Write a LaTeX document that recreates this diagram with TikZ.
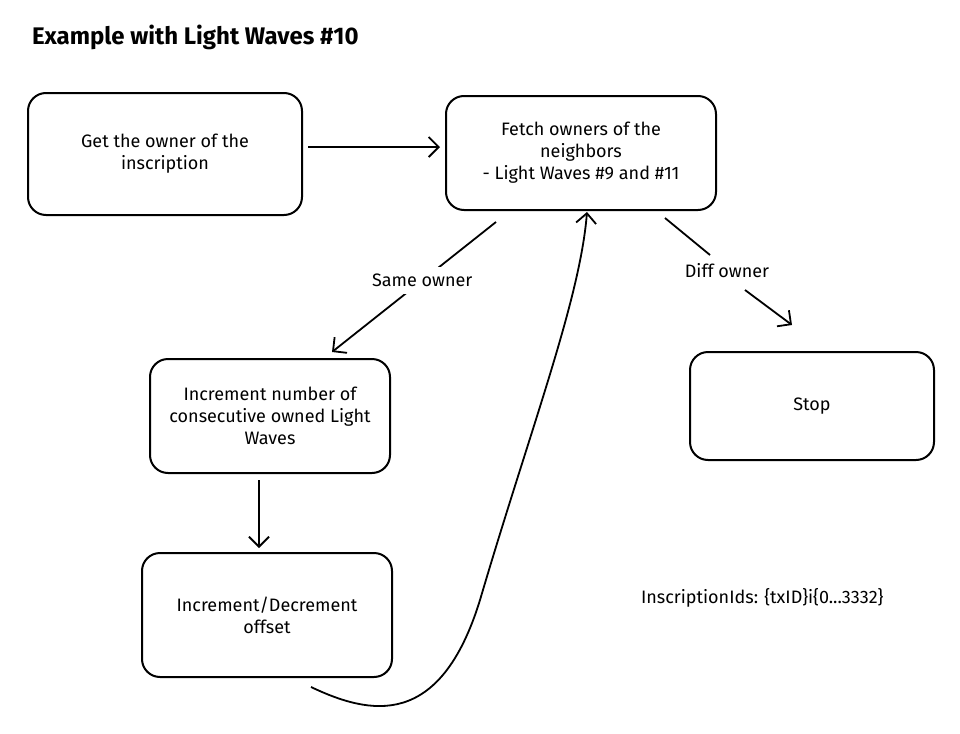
\documentclass[tikz,border=0pt]{standalone}
\usepackage{fontspec}
\setmainfont{Fira Sans}
\usetikzlibrary{arrows.meta,calc}

\begin{document}
\begin{tikzpicture}[x=0.5pt,y=-0.5pt,
    box/.style={draw,line width=1pt,rounded corners=9pt,align=center,font=\fontsize{9}{11}\selectfont},
    lbl/.style={font=\fontsize{9}{11}\selectfont},
    arr/.style={line width=0.9pt,-{Straight Barb[length=5pt]}}]
    % Frame
    \useasboundingbox (0,0) rectangle (960,734);
    \node[anchor=west,font=\fontsize{12}{14}\selectfont\bfseries] (title) at (25,37) {Example with Light Waves \#10};
    % Boxes
    \node[box,minimum width=137pt,minimum height=61pt] (owner) at (165,154) {Get the owner of the\\inscription};
    \node[box,minimum width=135pt,minimum height=57pt] (fetch) at (581,153) {Fetch owners of the\\neighbors\\- Light Waves \#9 and \#11};
    \node[box,minimum width=120pt,minimum height=57pt] (count) at (270,416) {Increment number of\\consecutive owned Light\\Waves};
    \node[box,minimum width=125pt,minimum height=62pt] (offset) at (267,615) {Increment/Decrement\\offset};
    \node[box,minimum width=122pt,minimum height=54pt] (stop) at (812,406) {Stop};
    % Connectors
    \draw[arr] ($(owner.east)+(5,-7)$) -- ($(fetch.west)+(-5,-6)$);
    \coordinate (s1) at (496,222);
    \coordinate (s2) at (332,352);
    \draw[arr] (s1) -- (s2) node[lbl,pos=0.45,fill=white] (same) {Same owner};
    \coordinate (d1) at (665,218);
    \coordinate (d2) at (710,255);
    \coordinate (d3) at (745,290);
    \coordinate (d4) at (792,325);
    \draw[line width=0.9pt] (d1) -- (d2);
    \node[lbl] (diff) at (727,271) {Diff owner};
    \draw[arr] (d3) -- (d4);
    \draw[arr] ($(count.south)+(-11,6)$) -- ($(offset.north)+(-8,-4)$);
    \node[lbl,anchor=west] (ids) at (634,598) {InscriptionIds: \{txID\}i\{0...3332\}};
    \coordinate (b1) at (311,687);
    \coordinate (b2) at (587,212);
    \draw[arr] (b1) .. controls (370,715) and (440,730) .. (480,600) .. controls (530,430) and (580,300) .. (b2);
\end{tikzpicture}
\end{document}
